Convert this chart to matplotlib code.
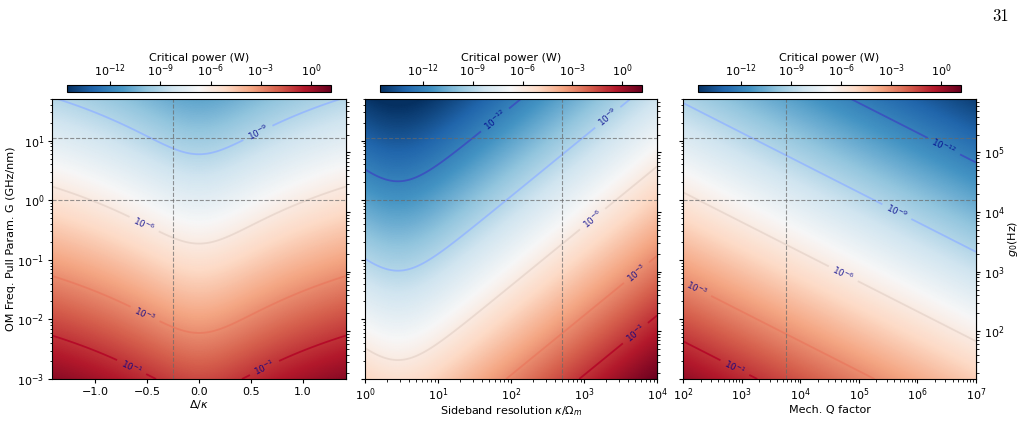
import numpy as np
import matplotlib.pyplot as plt
from matplotlib.colors import LogNorm
from matplotlib.ticker import NullFormatter, FixedLocator

# contour levels and colorbar ticks (W)
levels = [1e-12, 1e-9, 1e-6, 1e-3, 1e-1]
cbar_ticks = [1e-12, 1e-9, 1e-6, 1e-3, 1e0]
cbar_range = [2.5e-15, 16.0]

# axis ranges
G_range = [1e-3, 50.0]          # GHz/nm
delta_range = [-1.42, 1.42]     # Delta/kappa
kappa_range = [1e0, 1e4]        # kappa/Omega_m
Q_range = [1e2, 1e7]            # mech. Q
g0_ticks = [1e2, 1e3, 1e4, 1e5]

# operating point (dashed lines)
G_lines = [1.0, 11.0]
delta_op = -0.25
kappa_op = 500.0
Q_op = 5.8e3

# model constants
A1 = 3.5e-8           # P*G^2 at delta=0
C2 = 1.35e-13         # P*G^2 / (k + a/k)^2
a2 = 8.0
C3 = 1.85e-4          # P*G^2*Q
g0_per_G = 1.58e4     # Hz per GHz/nm

# contour label positions (x, G)
lab1 = [(0.56, 14.5), (-0.52, 0.43), (-0.51, 0.0135), (-0.64, 1.73e-3), (0.62, 1.7e-3)]
lab2 = [(57.5, 24.0), (2040, 26.0), (1200, 0.55), (5000, 0.065), (4730, 0.0065)]
lab3 = [(2.95e6, 8.7), (4.7e5, 0.71), (5.75e4, 0.065), (182, 0.037), (830, 1.8e-3)]

plt.rcParams['font.size'] = 8
plt.rcParams['xtick.major.size'] = 3
plt.rcParams['ytick.major.size'] = 3
plt.rcParams['xtick.minor.size'] = 1.8
plt.rcParams['ytick.minor.size'] = 1.8
plt.rcParams['xtick.major.pad'] = 2.5
plt.rcParams['ytick.major.pad'] = 2.5

G = np.logspace(np.log10(G_range[0]), np.log10(G_range[1]), 400)
delta = np.linspace(delta_range[0], delta_range[1], 400)
kr = np.logspace(np.log10(kappa_range[0]), np.log10(kappa_range[1]), 400)
Q = np.logspace(np.log10(Q_range[0]), np.log10(Q_range[1]), 400)

D, GG = np.meshgrid(delta, G)
P1 = A1 * (1 + 4 * D ** 2) ** 2 / GG ** 2
K, GG = np.meshgrid(kr, G)
P2 = C2 * (K + a2 / K) ** 2 / GG ** 2
QQ, GG = np.meshgrid(Q, G)
P3 = C3 / (QQ * GG ** 2)

norm = LogNorm(vmin=cbar_range[0], vmax=cbar_range[1])


def fmt(v):
    return r'$10^{%d}$' % round(np.log10(v))


fig = plt.figure(figsize=(10.24, 4.43), dpi=100)

panels = [
    (0.0508, 0.2871, delta, P1, lab1, r'$\Delta/\kappa$', False, delta_op),
    (0.3564, 0.2852, kr, P2, lab2, r'Sideband resolution $\kappa/\Omega_m$', True, kappa_op),
    (0.6670, 0.2861, Q, P3, lab3, 'Mech. Q factor', True, Q_op),
]

for i, (x0, w, xv, P, labs, xlabel, logx, xop) in enumerate(panels):
    ax = fig.add_axes([x0, 0.1445, w, 0.632])
    if logx:
        ax.set_xscale('log')
    ax.set_yscale('log')
    mesh = ax.pcolormesh(xv, G, P, cmap='RdBu_r', norm=norm, shading='gouraud', rasterized=True)
    ax.set_xlim(xv[0], xv[-1])
    ax.set_ylim(G_range)
    cs = ax.contour(xv, G, P, levels=levels, cmap='coolwarm',
                    norm=LogNorm(vmin=levels[0], vmax=levels[-1]), linewidths=1.3, alpha=0.85)
    ax.clabel(cs, fmt=fmt, fontsize=6.5, colors='darkblue', manual=labs, inline=True)

    ax.axvline(xop, color='dimgray', ls='--', lw=0.8, alpha=0.7)
    for gl in G_lines:
        ax.axhline(gl, color='dimgray', ls='--', lw=0.8, alpha=0.7)

    ax.set_xlabel(xlabel, labelpad=1)
    if i == 0:
        ax.set_ylabel('OM Freq. Pull Param. G (GHz/nm)', labelpad=1)
        ax.set_xticks([-1.0, -0.5, 0.0, 0.5, 1.0])
    else:
        ax.tick_params(axis='y', which='both', labelleft=False)

    sec = ax.secondary_yaxis('right', functions=(lambda g: g * g0_per_G, lambda g: g / g0_per_G))
    sec.yaxis.set_major_locator(FixedLocator(g0_ticks))
    sec.yaxis.set_minor_formatter(NullFormatter())
    if i == 2:
        sec.set_ylabel(r'$g_0$(Hz)', labelpad=1)
    else:
        sec.yaxis.set_major_formatter(NullFormatter())

    cax = fig.add_axes([x0 + 0.05 * w, 0.7923, 0.9 * w, 0.0158])
    cb = fig.colorbar(mesh, cax=cax, orientation='horizontal', ticks=cbar_ticks)
    cb.ax.minorticks_off()
    cax.xaxis.set_ticks_position('top')
    cax.xaxis.set_label_position('top')
    cax.tick_params(pad=1.5)
    cb.set_label('Critical power (W)', labelpad=1)

fig.text(0.985, 0.98, '31', family='cmr10', fontsize=12, ha='right', va='top')

fig.savefig('out.png', dpi=100)
